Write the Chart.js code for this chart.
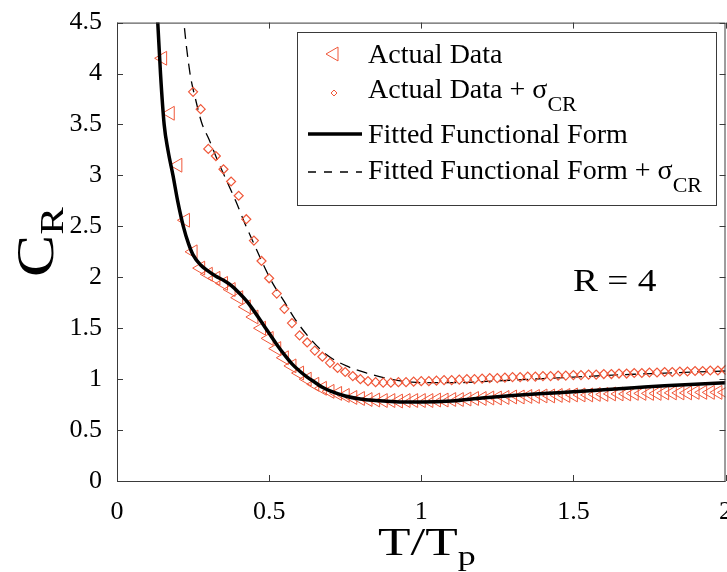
<!DOCTYPE html>
<html>
<head>
<meta charset="utf-8">
<script src="https://cdn.jsdelivr.net/npm/chart.js@4/dist/chart.umd.min.js"></script>
<style>
  html, body { margin: 0; padding: 0; background: #fff; overflow: hidden; }
  #wrap { width: 727px; height: 572px; overflow: hidden; }
</style>
</head>
<body>
<div id="wrap"><canvas id="grafico" width="740" height="572"></canvas></div>
<script>
// T/Tp positions of the measured points
const tpRatio = [
  0.15, 0.175, 0.2, 0.225, 0.25, 0.275, 0.3, 0.325, 0.35, 0.375,
  0.4, 0.425, 0.45, 0.475, 0.5, 0.525, 0.55, 0.575, 0.6, 0.625,
  0.65, 0.675, 0.7, 0.725, 0.75, 0.775, 0.8, 0.825, 0.85, 0.875,
  0.9, 0.925, 0.95, 0.975, 1.0, 1.025, 1.05, 1.075, 1.1, 1.125,
  1.15, 1.175, 1.2, 1.225, 1.25, 1.275, 1.3, 1.325, 1.35, 1.375,
  1.4, 1.425, 1.45, 1.475, 1.5, 1.525, 1.55, 1.575, 1.6, 1.625,
  1.65, 1.675, 1.7, 1.725, 1.75, 1.775, 1.8, 1.825, 1.85, 1.875,
  1.9, 1.925, 1.95, 1.975, 2.0
];
// Actual Data (triangles)
const actualData = [
  4.15, 3.61, 3.10, 2.56, 2.25, 2.09, 2.03, 1.99, 1.94, 1.88,
  1.80, 1.71, 1.61, 1.50, 1.40, 1.30, 1.21, 1.13, 1.06, 1.00,
  0.95, 0.91, 0.88, 0.86, 0.84, 0.82, 0.81, 0.80, 0.795, 0.79,
  0.79, 0.785, 0.79, 0.79, 0.79, 0.79, 0.795, 0.795, 0.80, 0.80,
  0.805, 0.81, 0.81, 0.815, 0.815, 0.82, 0.825, 0.825, 0.83, 0.83,
  0.835, 0.835, 0.84, 0.84, 0.845, 0.845, 0.845, 0.85, 0.85, 0.855,
  0.855, 0.855, 0.86, 0.86, 0.86, 0.86, 0.865, 0.865, 0.865, 0.865,
  0.87, 0.87, 0.87, 0.87, 0.87
];
// Actual Data + sigma_CR (diamonds), first points are off the top of the axes
const actualPlusSigma = [
  null, null, null, null, 3.82, 3.65, 3.26, 3.19, 3.06, 2.94,
  2.80, 2.57, 2.36, 2.16, 1.99, 1.84, 1.69, 1.55, 1.43, 1.36,
  1.28, 1.22, 1.16, 1.11, 1.07, 1.03, 1.00, 0.98, 0.97, 0.965,
  0.965, 0.97, 0.97, 0.975, 0.98, 0.98, 0.985, 0.99, 0.99, 0.995,
  1.00, 1.00, 1.005, 1.01, 1.01, 1.015, 1.02, 1.02, 1.025, 1.025,
  1.03, 1.03, 1.035, 1.035, 1.04, 1.04, 1.045, 1.045, 1.05, 1.05,
  1.055, 1.055, 1.06, 1.06, 1.065, 1.065, 1.07, 1.07, 1.075, 1.075,
  1.08, 1.08, 1.085, 1.085, 1.09
];
// Fitted Functional Form
const fitX = [
  0.128, 0.134, 0.143, 0.155, 0.168, 0.184, 0.2, 0.218, 0.235, 0.25,
  0.275, 0.3, 0.325, 0.35, 0.375, 0.4, 0.425, 0.45, 0.475, 0.5,
  0.525, 0.55, 0.575, 0.6, 0.625, 0.65, 0.675, 0.7, 0.75, 0.8,
  0.85, 0.9, 0.95, 1.0, 1.1, 1.2, 1.3, 1.4, 1.5, 1.6,
  1.7, 1.8, 1.9, 2.0
];
const fitY = [
  4.8, 4.5, 4.0, 3.5, 3.24, 3.0, 2.74, 2.5, 2.33, 2.22,
  2.12, 2.06, 2.01, 1.97, 1.92, 1.85, 1.77, 1.67, 1.56, 1.45,
  1.34, 1.24, 1.15, 1.08, 1.02, 0.97, 0.92, 0.885, 0.835, 0.805,
  0.79, 0.78, 0.775, 0.775, 0.785, 0.815, 0.84, 0.86, 0.875, 0.895,
  0.915, 0.935, 0.95, 0.965
];
// Fitted Functional Form + sigma_CR
const fitSigmaX = [
  0.212, 0.22, 0.24, 0.258, 0.278, 0.303, 0.33, 0.36, 0.39, 0.42,
  0.45, 0.48, 0.51, 0.55, 0.585, 0.634, 0.689, 0.754, 0.82, 0.9,
  0.97, 1.04, 1.12, 1.2, 1.3, 1.4, 1.5, 1.6, 1.7, 1.8,
  1.9, 2.0
];
const fitSigmaY = [
  4.8, 4.5, 4.0, 3.75, 3.52, 3.35, 3.15, 2.95, 2.75, 2.53,
  2.33, 2.13, 1.95, 1.76, 1.59, 1.40, 1.24, 1.13, 1.06, 1.0,
  0.97, 0.965, 0.965, 0.975, 0.99, 1.005, 1.02, 1.035, 1.048, 1.058,
  1.07, 1.08
];
const xTicks = [0, 0.5, 1, 1.5, 2];
const xTickLabels = ["0", "0.5", "1", "1.5", "2"];
const yTicks = [0, 0.5, 1, 1.5, 2, 2.5, 3, 3.5, 4, 4.5];
const yTickLabels = ["0", "0.5", "1", "1.5", "2", "2.5", "3", "3.5", "4", "4.5"];

const markerColor = "rgb(240, 88, 58)";
const serif = "'Liberation Serif', 'Times New Roman', serif";

function pares(xs, ys) {
  return xs.map((x, i) => ({ x: x, y: ys[i] }));
}

// draws a run of text pieces (for subscripts), sx = horizontal stretch
function textoComSub(ctx, partes, x, y, sx) {
  sx = sx || 1;
  ctx.save();
  ctx.translate(x, y);
  ctx.scale(sx, 1);
  let cx = 0;
  for (const p of partes) {
    ctx.font = p.font;
    ctx.fillText(p.t, cx, p.dy || 0);
    cx += ctx.measureText(p.t).width;
  }
  ctx.restore();
}

const molduraPlugin = {
  id: "moldura",
  afterDraw(chart) {
    const ctx = chart.ctx;
    const a = chart.chartArea;
    const sx = chart.scales.x, sy = chart.scales.y;
    ctx.save();
    ctx.strokeStyle = "#3a3a3a";
    ctx.lineWidth = 1;
    ctx.strokeRect(a.left + 0.5, a.top + 0.5, a.right - a.left - 1, a.bottom - a.top);
    // inward ticks on all four sides
    ctx.beginPath();
    for (const v of xTicks) {
      const px = Math.round(sx.getPixelForValue(v)) + 0.5;
      ctx.moveTo(px, a.bottom); ctx.lineTo(px, a.bottom - 6);
      ctx.moveTo(px, a.top); ctx.lineTo(px, a.top + 6);
    }
    for (const v of yTicks) {
      const py = Math.round(sy.getPixelForValue(v)) + 0.5;
      ctx.moveTo(a.left, py); ctx.lineTo(a.left + 6, py);
      ctx.moveTo(a.right, py); ctx.lineTo(a.right - 6, py);
    }
    ctx.stroke();

    // legend
    const lx = 297, ly = 32, lw = 419, lh = 173;
    ctx.fillStyle = "#fff";
    ctx.fillRect(lx, ly, lw, lh);
    ctx.strokeStyle = "#3a3a3a";
    ctx.strokeRect(lx + 0.5, ly + 0.5, lw, lh);
    ctx.fillStyle = "#000";
    ctx.textBaseline = "alphabetic";
    ctx.textAlign = "left";
    const fLeg = "28px " + serif;
    const fSub = "22px " + serif;
    const tx = 368;
    const linhas = [
      [{ t: "Actual Data", font: fLeg }],
      [{ t: "Actual Data + \u03c3", font: fLeg }, { t: "CR", font: fSub, dy: 13 }],
      [{ t: "Fitted Functional Form", font: fLeg }],
      [{ t: "Fitted Functional Form + \u03c3", font: fLeg }, { t: "CR", font: fSub, dy: 13 }]
    ];
    const bases = [63, 98, 143, 179];
    linhas.forEach((l, i) => textoComSub(ctx, l, tx, bases[i], 1));

    ctx.strokeStyle = markerColor;
    ctx.fillStyle = "rgba(0,0,0,0)";
    Chart.helpers.drawPoint(ctx, { pointStyle: "triangle", rotation: -90, radius: 8, borderWidth: 1 }, 334, 54);
    Chart.helpers.drawPoint(ctx, { pointStyle: "rectRot", rotation: 0, radius: 3, borderWidth: 1.2 }, 334, 93);
    ctx.strokeStyle = "#000";
    ctx.lineWidth = 3.5;
    ctx.beginPath(); ctx.moveTo(308, 134); ctx.lineTo(362, 134); ctx.stroke();
    ctx.lineWidth = 1.3;
    ctx.setLineDash([8, 8]);
    ctx.beginPath(); ctx.moveTo(308, 172); ctx.lineTo(362, 172); ctx.stroke();
    ctx.setLineDash([]);

    // annotation and axis titles
    ctx.fillStyle = "#000";
    textoComSub(ctx, [{ t: "R = 4", font: "32px " + serif }], 573, 291, 1.17);
    textoComSub(ctx, [{ t: "T/T", font: "40px " + serif }, { t: "p", font: "27px " + serif, dy: 10 }], 378, 555, 1.33);
    ctx.save();
    ctx.translate(53, 277);
    ctx.rotate(-Math.PI / 2);
    textoComSub(ctx, [{ t: "C", font: "52px " + serif }, { t: "R", font: "34px " + serif, dy: 10 }], 0, 0, 1.22);
    ctx.restore();
    ctx.restore();
  }
};

const ctx1 = document.getElementById("grafico").getContext("2d");
new Chart(ctx1, {
  type: "scatter",
  data: {
    datasets: [
      {
        label: "Fitted Functional Form + sigma",
        data: pares(fitSigmaX, fitSigmaY),
        showLine: true,
        borderColor: "#000",
        borderWidth: 1.3,
        borderDash: [11, 7],
        pointRadius: 0,
        cubicInterpolationMode: "monotone",
        order: 3
      },
      {
        label: "Actual Data + sigma",
        data: pares(tpRatio, actualPlusSigma),
        pointStyle: "rectRot",
        pointRadius: 4.5,
        borderWidth: 1.2,
        borderColor: markerColor,
        backgroundColor: "rgba(0,0,0,0)",
        order: 2
      },
      {
        label: "Actual Data",
        data: pares(tpRatio, actualData),
        pointStyle: "triangle",
        rotation: -90,
        pointRadius: 8,
        borderWidth: 1,
        borderColor: markerColor,
        backgroundColor: "rgba(0,0,0,0)",
        order: 1
      },
      {
        label: "Fitted Functional Form",
        data: pares(fitX, fitY),
        showLine: true,
        borderColor: "#000",
        borderWidth: 3.5,
        pointRadius: 0,
        cubicInterpolationMode: "monotone",
        order: 0
      }
    ]
  },
  options: {
    responsive: false,
    animation: false,
    devicePixelRatio: 1,
    layout: { padding: { left: 0, top: 22, right: 14, bottom: 0 } },
    plugins: { legend: { display: false }, tooltip: { enabled: false } },
    scales: {
      x: {
        type: "linear",
        min: 0, max: 2,
        grid: { display: false },
        border: { display: false },
        afterBuildTicks: (s) => { s.ticks = xTicks.map(v => ({ value: v })); },
        afterFit: (s) => { s.height = 91; },
        ticks: {
          color: "#000", padding: 8, maxRotation: 0,
          font: { family: serif, size: 26 },
          callback: (v, i) => xTickLabels[i]
        }
      },
      y: {
        type: "linear",
        min: 0, max: 4.5,
        grid: { display: false },
        border: { display: false },
        afterBuildTicks: (s) => { s.ticks = yTicks.map(v => ({ value: v })); },
        afterFit: (s) => { s.width = 117; },
        ticks: {
          color: "#000", padding: 7,
          font: { family: serif, size: 26 },
          callback: (v, i) => yTickLabels[i]
        }
      }
    }
  },
  plugins: [molduraPlugin]
});
</script>
</body>
</html>
